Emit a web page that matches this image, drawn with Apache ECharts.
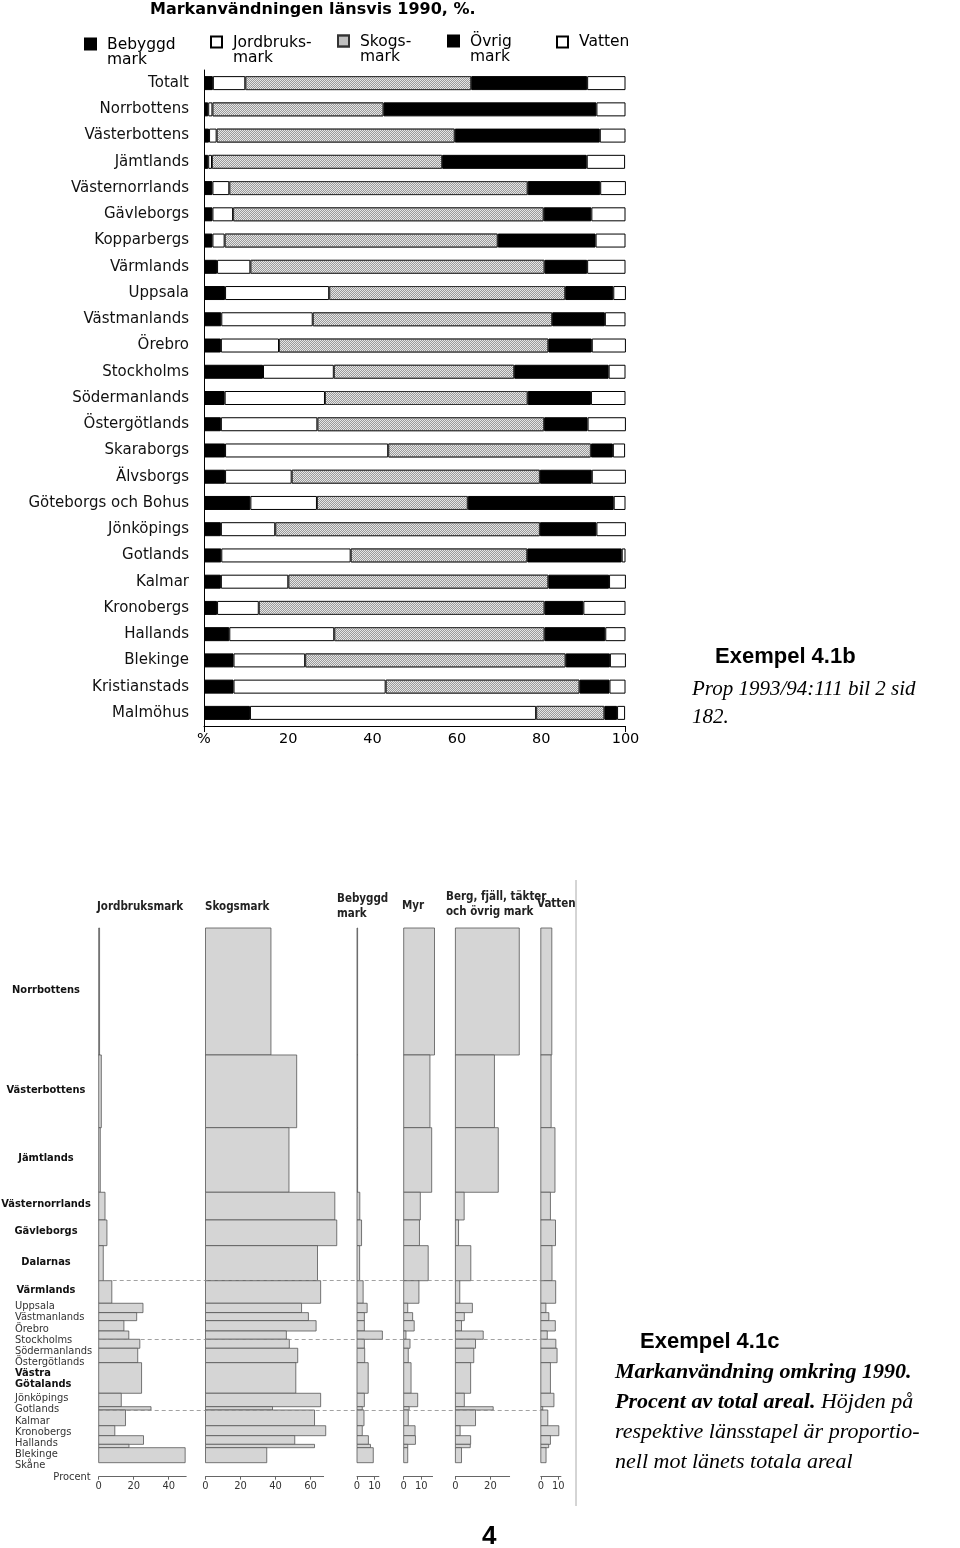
<!DOCTYPE html>
<html><head><meta charset="utf-8">
<script src="https://cdn.jsdelivr.net/npm/echarts@6/dist/echarts.min.js"></script>
<style>html,body{margin:0;padding:0;background:#fff}#c{width:960px;height:1548px}</style>
</head><body><div id="c"></div>
<script>
// ---------- Top chart data (Exempel 4.1b) ----------
const topCats = ['Totalt','Norrbottens','Västerbottens','Jämtlands','Västernorrlands','Gävleborgs','Kopparbergs','Värmlands','Uppsala','Västmanlands','Örebro','Stockholms','Södermanlands','Östergötlands','Skaraborgs','Älvsborgs','Göteborgs och Bohus','Jönköpings','Gotlands','Kalmar','Kronobergs','Hallands','Blekinge','Kristianstads','Malmöhus'];
const topBebyggd = [2.1,1.0,1.2,1.0,2.0,2.0,2.0,3.1,5.0,4.1,4.0,14.0,4.9,4.0,5.0,5.0,11.0,4.0,4.1,4.0,3.1,6.0,7.0,7.0,10.9];
const topJordbruk = [7.7,1.0,1.8,0.9,4.0,4.9,2.9,7.9,24.7,21.7,13.8,16.8,23.8,22.9,38.7,15.8,15.8,12.9,30.7,16.0,9.9,24.9,17.0,36.1,67.9];
const topSkog = [53.6,40.6,56.5,54.6,70.8,73.7,64.8,69.8,56.0,56.8,63.9,42.8,48.1,53.8,48.1,58.9,35.8,62.8,41.9,61.7,67.8,49.9,61.8,46.0,16.2];
const topOvrig = [27.5,50.5,34.4,34.3,17.2,11.3,23.2,10.1,11.4,12.5,10.3,22.4,15.0,10.3,5.2,12.3,34.6,13.4,22.4,14.4,9.2,14.4,10.5,7.1,3.0];
const topVatten = [9.1,6.9,6.1,9.1,6.1,8.1,7.1,9.1,3.0,4.9,8.1,4.0,8.2,9.1,2.9,8.1,2.8,7.0,0.9,4.0,10.0,4.8,3.8,3.8,1.9];
const topSeriesNames = ['Bebyggd mark','Jordbruksmark','Skogsmark','Övrig mark','Vatten'];
const topLegendLabels = ['Bebyggd\nmark','Jordbruks-\nmark','Skogs-\nmark','Övrig\nmark','Vatten'];
const topTicks = [0,20,40,60,80,100];

// ---------- Bottom chart data (Exempel 4.1c) ----------
const lan = ['Norrbottens','Västerbottens','Jämtlands','Västernorrlands','Gävleborgs','Dalarnas','Värmlands','Uppsala','Västmanlands','Örebro','Stockholms','Södermanlands','Östergötlands','Västra Götalands','Jönköpings','Gotlands','Kalmar','Kronobergs','Hallands','Blekinge','Skåne'];
const lanArea = [105.8,60.6,53.8,23.1,21.4,29.2,18.8,7.8,6.7,8.6,6.9,7.5,12.0,25.5,11.2,2.75,13.1,8.3,7.2,2.8,12.5];
const lanJordbruk = [0.5,1.5,0.9,3.6,4.7,2.6,7.5,25.3,21.7,14.4,17.2,23.5,22.3,24.5,12.9,29.9,15.3,9.2,25.6,17.3,49.4];
const lanSkog = [37.4,52.1,47.7,73.9,75.0,64.0,65.8,54.9,58.8,63.2,46.2,47.9,52.7,51.6,65.8,38.3,62.3,68.7,51.0,62.3,35.0];
const lanBebyggd = [0.3,0.3,0.3,1.6,2.6,1.5,3.5,5.8,4.2,4.2,14.5,4.2,4.4,6.4,4.2,3.0,4.0,3.0,6.5,7.7,9.3];
const lanMyr = [17.6,15.0,16.0,9.5,9.0,14.0,8.7,2.3,5.1,6.0,1.3,3.6,2.6,4.2,8.0,3.1,2.6,6.5,6.7,2.3,2.3];
const lanBerg = [36.5,22.3,24.5,5.0,1.8,8.8,2.5,9.7,5.1,3.5,15.9,11.5,10.5,8.7,5.1,21.6,11.5,2.7,8.7,8.5,3.5];
const lanVatten = [6.3,5.9,8.1,5.5,8.4,6.4,8.5,2.9,4.6,8.3,3.7,8.6,9.3,5.5,7.5,1.1,4.0,10.3,5.5,4.5,3.0];
const panelNames = ['Jordbruksmark','Skogsmark','Bebyggd\nmark','Myr','Berg, fjäll, täkter\noch övrig mark','Vatten'];
const panelTicks = [[0,20,40],[0,20,40,60],[0,10],[0,10],[0,20],[0,10]];
const separatorAfter = ['Dalarnas','Stockholms','Gotlands'];

// ---------- Layout / styles ----------
const PX = 1.75; // px per percent in bottom panels
const panelLeft = [98.7,205.5,357,403.7,455.4,540.8];
const panelMax = [50,67.5,12.5,16.5,31,11.5];
const bottomTop = 928, bottomBottom = 1548-1462.7;
const boldLabels = new Set(['Norrbottens','Västerbottens','Jämtlands','Västernorrlands','Gävleborgs','Dalarnas','Värmlands','Västra Götalands']);
const centeredLabels = new Set(['Norrbottens','Västerbottens','Jämtlands','Västernorrlands','Gävleborgs','Dalarnas','Värmlands']);

const starts = [];
let acc = 0;
lanArea.forEach(a => { starts.push(acc); acc += a; });
const totalArea = acc;

const chart = echarts.init(document.getElementById('c'), null, {renderer:'canvas'});

const SANS = 'DejaVu Sans';
const COND = 'DejaVu Sans Condensed';
const SERIF = 'Liberation Serif';

const grids = [{left:204, width:421.5, top:70, height:656}];
const xAxes = [{
  gridIndex:0, type:'value', min:0, max:100, interval:20, position:'bottom',
  axisLine:{show:true, onZero:false, lineStyle:{color:'#000', width:1}},
  axisTick:{show:true, customValues:[0,100], length:6, lineStyle:{color:'#000'}},
  splitLine:{show:false},
  axisLabel:{customValues:topTicks, formatter:v => v===0 ? '%' : String(v), fontFamily:SANS, fontSize:14.5, color:'#000', margin:6}
}];
const yAxes = [{
  gridIndex:0, type:'category', data:topCats, inverse:true,
  axisLine:{show:true, lineStyle:{color:'#000', width:1}},
  axisTick:{show:false},
  axisLabel:{fontFamily:SANS, fontSize:15, color:'#111', margin:15}
}];

panelLeft.forEach((l,k) => {
  grids.push({left:l, width:panelMax[k]*PX, top:bottomTop, bottom:bottomBottom});
  xAxes.push({
    gridIndex:k+1, type:'value', min:0, max:panelMax[k], offset:14, position:'bottom',
    name: k===0 ? 'Procent' : '', nameLocation:'start', nameGap:8,
    nameTextStyle:{fontFamily:COND, fontSize:11, color:'#333'},
    axisLine:{show:true, onZero:false, lineStyle:{color:'#666', width:1}},
    axisTick:{show:true, customValues:panelTicks[k], length:3, lineStyle:{color:'#666'}},
    splitLine:{show:false},
    axisLabel:{customValues:panelTicks[k], fontFamily:COND, fontSize:11, color:'#333', margin:4}
  });
  yAxes.push({gridIndex:k+1, type:'value', min:0, max:totalArea, inverse:true, show:false});
});
// overlay grid for separator lines
grids.push({left:98.7, width:446, top:bottomTop, bottom:bottomBottom});
xAxes.push({gridIndex:7, type:'value', min:0, max:1, show:false});
yAxes.push({gridIndex:7, type:'value', min:0, max:totalArea, inverse:true, show:false});

const topData = [topBebyggd, topJordbruk, topSkog, topOvrig, topVatten];
const topStyles = [
  {color:'#000', borderColor:'#000', borderWidth:1},
  {color:'#fff', borderColor:'#000', borderWidth:1},
  {color:'#e6e6e6', borderColor:'#333', borderWidth:1,
   decal:{symbol:'rect', symbolSize:1, color:'#9a9a9a', dashArrayX:[[1,1],[0,1,1,0]], dashArrayY:[1,0]}},
  {color:'#000', borderColor:'#000', borderWidth:1},
  {color:'#fff', borderColor:'#000', borderWidth:1}
];

const series = topData.map((d,i) => ({
  name:topSeriesNames[i], type:'bar', stack:'tot', xAxisIndex:0, yAxisIndex:0,
  barWidth:14, data:d, itemStyle:topStyles[i], silent:true
}));

const panelVals = [lanJordbruk, lanSkog, lanBebyggd, lanMyr, lanBerg, lanVatten];
panelVals.forEach((vals,k) => {
  series.push({
    type:'custom', xAxisIndex:k+1, yAxisIndex:k+1, z:3, silent:true,
    encode:{x:2, y:[0,1]},
    data: lan.map((n,i) => [starts[i], starts[i]+lanArea[i], vals[i]]),
    renderItem:(params, api) => {
      const a = api.coord([0, api.value(0)]);
      const b = api.coord([api.value(2), api.value(1)]);
      return {type:'rect', shape:{x:a[0], y:a[1], width:Math.max(0.6,b[0]-a[0]), height:b[1]-a[1]},
        style:{fill:'#d5d5d5', stroke:'#555', lineWidth:0.8}};
    }
  });
});

// county labels, placed at band centres and pushed down when they would collide
function labelYs(api){
  const ys = []; let prevBottom = -1e9;
  lan.forEach((n,i) => {
    const c = api.coord([0, starts[i] + lanArea[i]/2])[1];
    const lines = n === 'Västra Götalands' ? 2 : 1;
    const h = lines * 11.1;
    const y = Math.max(c - 1.5, prevBottom + h/2);
    ys.push(y); prevBottom = y + h/2;
  });
  return ys;
}
series.push({
  type:'custom', xAxisIndex:1, yAxisIndex:1, z:4, silent:true,
  encode:{x:2, y:[0,1]},
  data: lan.map((n,i) => [starts[i], starts[i]+lanArea[i], 0]),
  renderItem:(params, api) => {
    const ys = labelYs(api);
    const n = lan[params.dataIndex];
    const bold = boldLabels.has(n);
    const centered = centeredLabels.has(n);
    const text = n === 'Västra Götalands' ? 'Västra\nGötalands' : n;
    return {type:'text', x: centered ? 46 : 15, y: ys[params.dataIndex],
      style:{text:text, fill: bold ? '#111' : '#333',
        font: (bold ? 'bold 11px ' : '11px ') + '"' + COND + '"',
        lineHeight:11.1,
        textAlign: centered ? 'center' : 'left', textVerticalAlign:'middle',
        align: centered ? 'center' : 'left', verticalAlign:'middle'}};
  }
});

// dashed separators
series.push({
  type:'line', xAxisIndex:7, yAxisIndex:7, z:1, silent:true, data:[[0,0]],
  showSymbol:false, lineStyle:{width:0},
  markLine:{silent:true, symbol:'none', label:{show:false},
    lineStyle:{type:[4,3], color:'#8a8a8a', width:0.8},
    data: separatorAfter.map(n => { const i = lan.indexOf(n); return {yAxis: starts[i]+lanArea[i]}; })}
});

// legend: two-line labels with the square beside the first line
const tallIcon = 'path://M0,0h10v10h-10zM0,25';
const legendPos = [[84,37],[210,35],[337,34],[447,34],[556,34]];
const legends = topSeriesNames.map((n,i) => {
  const two = topLegendLabels[i].includes('\n');
  return {
    data:[n], left:legendPos[i][0], top:legendPos[i][1], padding:0, selectedMode:false,
    icon: two ? tallIcon : 'rect', itemWidth:11, itemHeight: two ? 27.5 : 11, itemGap:0,
    formatter: () => topLegendLabels[i].split('\n').map(s => '{a|' + s + '}').join('\n'),
    textStyle:{fontFamily:SANS, fontSize:15.5, color:'#000', lineHeight:14.5,
      rich:{a:{fontFamily:SANS, fontSize:15.5, color:'#000', lineHeight:14.5, padding:[0,0,0,6]}}}
  };
});

const hdr = (text, left, top) => ({text, left, top, padding:0,
  textStyle:{fontFamily:COND, fontWeight:'bold', fontSize:11.5, color:'#222', lineHeight:14.5}});

const titles = [
  {text:'Markanvändningen länsvis 1990, %.', left:150, top:1, padding:0,
   textStyle:{fontFamily:SANS, fontWeight:'bold', fontSize:16, lineHeight:18, color:'#000'}},
  {text:'Exempel 4.1b', left:715, top:645, padding:0,
   textStyle:{fontFamily:'Liberation Sans', fontWeight:'bold', fontSize:22, lineHeight:24, color:'#000'}},
  {text:'Prop 1993/94:111 bil 2 sid\n182.', left:692, top:675, padding:0,
   textStyle:{fontFamily:SERIF, fontStyle:'italic', fontWeight:'normal', fontSize:21, lineHeight:28, color:'#000'}},
  {text:'Exempel 4.1c', left:640, top:1330, padding:0,
   textStyle:{fontFamily:'Liberation Sans', fontWeight:'bold', fontSize:22, lineHeight:24, color:'#000'}},
  {text:'{b|Markanvändning omkring 1990.}\n{b|Procent av total areal.}{i| Höjden på}\n{i|respektive länsstapel är proportio-}\n{i|nell mot länets totala areal}',
   left:615, top:1357, padding:0,
   textStyle:{rich:{
     b:{fontFamily:SERIF, fontStyle:'italic', fontWeight:'bold', fontSize:22, lineHeight:30, color:'#000'},
     i:{fontFamily:SERIF, fontStyle:'italic', fontWeight:'normal', fontSize:22, lineHeight:30, color:'#000'}}}},
  {text:'4', left:482, top:1523, padding:0,
   textStyle:{fontFamily:'Liberation Sans', fontWeight:'bold', fontSize:26, lineHeight:28, color:'#000'}},
  hdr(panelNames[0], 97, 900),
  hdr(panelNames[1], 205, 900),
  hdr(panelNames[2], 337, 892),
  hdr(panelNames[3], 402, 899),
  hdr(panelNames[4], 446, 890),
  hdr(panelNames[5], 537, 897)
];
titles[titles.length-1].textStyle.backgroundColor = '#fff';

chart.setOption({
  animation:false,
  backgroundColor:'#fff',
  title:titles,
  legend:legends,
  grid:grids,
  xAxis:xAxes,
  yAxis:yAxes,
  series:series,
  graphic:[{type:'line', shape:{x1:576, y1:880, x2:576, y2:1506}, style:{stroke:'#aaa', lineWidth:1}, silent:true}]
});
</script>
</body></html>
